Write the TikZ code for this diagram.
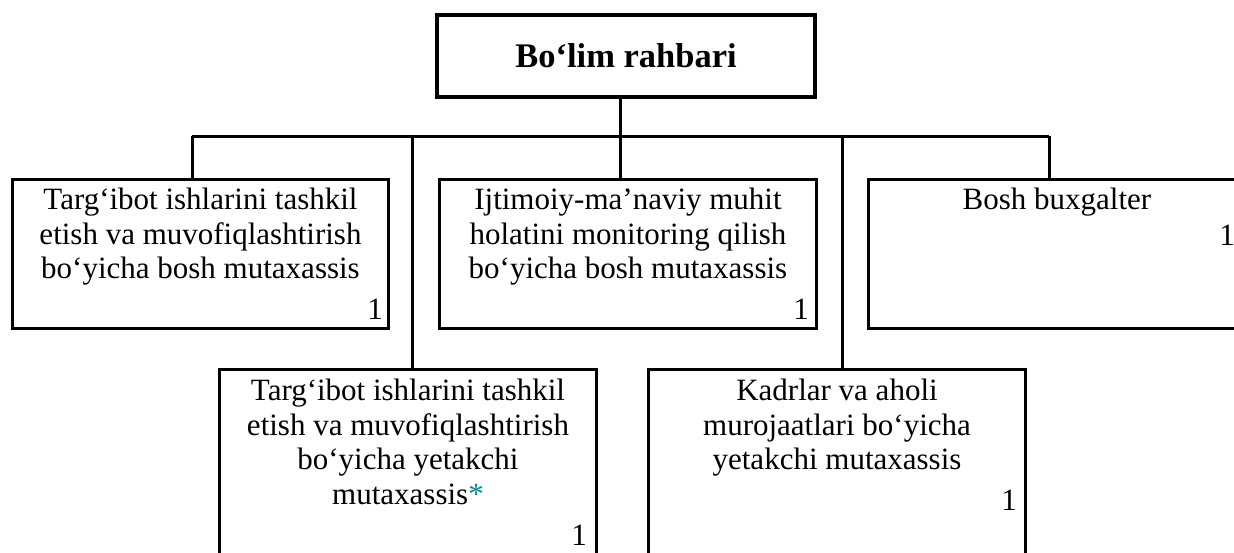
\documentclass[tikz,border=0pt]{standalone}
\usepackage{fontspec}
\setmainfont{Liberation Serif}
\usetikzlibrary{calc}
\definecolor{starteal}{RGB}{0,140,140}
\begin{document}
\begin{tikzpicture}[x=1pt,y=-1pt,
  box/.style={draw, line width=3pt, rectangle, anchor=north west, inner sep=0pt},
  topbox/.style={draw, line width=4pt, rectangle, inner sep=0pt},
  conn/.style={line width=3pt},
  txt/.style={align=center, inner sep=0pt, anchor=north, font=\fontsize{31}{34.5}\selectfont},
  num/.style={inner sep=0pt, anchor=base east, font=\fontsize{31}{34.5}\selectfont}]
\useasboundingbox (0,0) rectangle (1234,552);
\clip (0,0) rectangle (1234,552);
% boxes
\node[topbox, minimum width=378pt, minimum height=82pt] (top) at (626,56)
  {\fontsize{34.5}{38}\selectfont\bfseries Bo‘lim rahbari};
\node[box, minimum width=376pt, minimum height=149pt] (b1) at (11,178) {};
\node[box, minimum width=377pt, minimum height=149pt] (b2) at (438,178) {};
\node[box, minimum width=377pt, minimum height=149pt] (b3) at (867,178) {};
\node[box, minimum width=377pt, minimum height=200pt] (b4) at (218,368) {};
\node[box, minimum width=377pt, minimum height=200pt] (b5) at (647,368) {};
% texts
\node[txt] (t1) at ($(b1.north)+(0,7.5)$) {\strut Targ‘ibot ishlarini tashkil\\\strut etish va muvofiqlashtirish\\\strut bo‘yicha bosh mutaxassis};
\node[txt] (t2) at ($(b2.north)+(0,7.5)$) {\strut Ijtimoiy-ma’naviy muhit\\\strut holatini monitoring qilish\\\strut bo‘yicha bosh mutaxassis};
\node[txt] (t3) at ($(b3.north)+(0,7)$) {\strut Bosh buxgalter};
\node[txt] (t4) at ($(b4.north)+(0,8.5)$) {\strut Targ‘ibot ishlarini tashkil\\\strut etish va muvofiqlashtirish\\\strut bo‘yicha yetakchi\\\strut mutaxassis\textcolor{starteal}{*}};
\node[txt] (t5) at ($(b5.north)+(0,8.5)$) {\strut Kadrlar va aholi\\\strut murojaatlari bo‘yicha\\\strut yetakchi mutaxassis};
% numbers
\node[num] (n1) at (383,319) {1};
\node[num] (n2) at (809,319) {1};
\node[num] (n3) at (1235,245) {1};
\node[num] (n4) at (587,545) {1};
\node[num] (n5) at (1017,510) {1};
% connectors
\coordinate (x1) at (192,136);
\coordinate (x2) at (620,136);
\coordinate (x3) at (1049,136);
\coordinate (x4) at (412,136);
\coordinate (x5) at (842,136);
\draw[conn] (x1) -- (x3);
\draw[conn] (top.south -| x2) -- (b2.north -| x2);
\draw[conn] (x1) -- (x1 |- b1.north);
\draw[conn] (x3) -- (x3 |- b3.north);
\draw[conn] (x4) -- (x4 |- b4.north);
\draw[conn] (x5) -- (x5 |- b5.north);
\end{tikzpicture}
\end{document}
